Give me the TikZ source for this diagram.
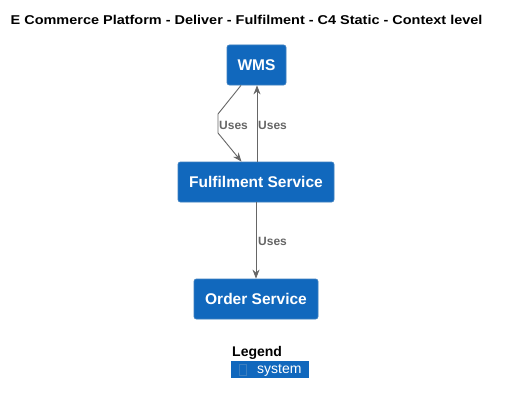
\documentclass[tikz,border=0pt]{standalone}
\usepackage{fontspec}
\setmainfont{Liberation Sans}
\usetikzlibrary{arrows.meta}
\definecolor{sysfill}{HTML}{1168BD}
\definecolor{sysdraw}{HTML}{3C7FC0}
\definecolor{relgray}{HTML}{666666}
\begin{document}
\begin{tikzpicture}[x=1pt,y=-1pt,
  sysbox/.style={draw=sysdraw,fill=sysfill,rounded corners=2.5pt,text=white,font=\fontsize{15.5}{18}\selectfont\bfseries,inner sep=0pt,line width=0.8pt},
  rel/.style={draw=relgray,line width=0.9pt,-{Stealth[length=9pt,width=7pt]}},
  rellabel/.style={text=relgray,font=\fontsize{12}{14}\selectfont\bfseries,inner sep=0pt,anchor=west}]
\useasboundingbox (0,0) rectangle (505,404);
\fill[white] (0,0) rectangle (505,404);
\node[anchor=base west,inner sep=0pt,font=\fontsize{12.8}{15}\selectfont\bfseries] (title) at (10.5,25) {\scalebox{1.13}[1]{E Commerce Platform - Deliver - Fulfilment - C4 Static - Context level}};
\node[sysbox,minimum width=59pt,minimum height=40pt] (wms) at (256.5,65) {WMS};
\node[sysbox,minimum width=156pt,minimum height=40pt] (ful) at (256,182) {Fulfilment Service};
\node[sysbox,minimum width=124pt,minimum height=40pt] (ord) at (256,299) {Order Service};
% WMS -> Fulfilment (bent)
\coordinate (b1) at (218,114);
\coordinate (b2) at (218,133);
\draw[rel] (wms.south -| 241,0) -- (b1) -- (b2) -- (ful.north -| 241.5,0);
\node[rellabel] (l1) at (219,125) {Uses};
% Fulfilment -> WMS
\draw[rel] (ful.north -| 257,0) -- (wms.south -| 257,0);
\node[rellabel] (l2) at (258,125) {Uses};
% Fulfilment -> Order
\draw[rel] (ful.south -| 256,0) -- (ord.north -| 256,0);
\node[rellabel] (l3) at (258,241) {Uses};
% Legend
\node[anchor=west,inner sep=0pt,font=\fontsize{14}{16}\selectfont\bfseries] (leg) at (232,353) {Legend};
\node[fill=sysfill,minimum width=78pt,minimum height=17pt,inner sep=0pt,anchor=north west] (legbox) at (231,361) {};
\draw[sysdraw,line width=0.6pt] (239,364) rectangle (246,375);
\node[anchor=west,inner sep=0pt,text=white,font=\fontsize{14}{16}\selectfont] (legtext) at (257,370.5) {system};
\end{tikzpicture}
\end{document}
